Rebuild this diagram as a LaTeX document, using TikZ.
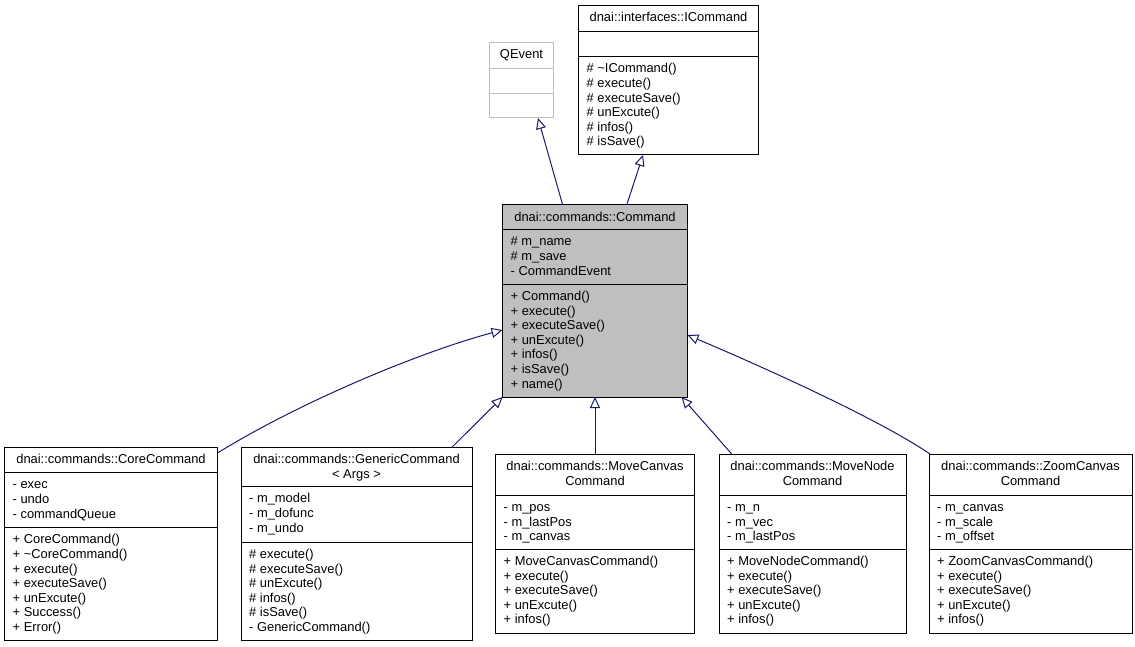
\documentclass[tikz,border=0pt]{standalone}
\usepackage{fontspec}
\setmainfont{Liberation Sans}
\usetikzlibrary{arrows.meta,calc}
\definecolor{navy}{HTML}{191970}
\definecolor{lgray}{HTML}{BFBFBF}
\newcommand\fs{\fontsize{12.9}{14.6}\selectfont}
\tikzset{
  cls/.style={draw=black, line width=1pt, inner sep=0pt, outer sep=0pt, anchor=north west, fill=white},
  txt/.style={inner sep=0pt, anchor=north west, align=left, font=\fs},
  ttl/.style={inner sep=0pt, anchor=north, align=center, font=\fs},
  sep/.style={draw=black, line width=1pt},
  inh/.style={draw=navy, line width=1pt, -{Triangle[length=11pt,width=10pt,fill=white]}},
}
\begin{document}
\begin{tikzpicture}[x=1pt,y=-1pt]
\useasboundingbox (0,0) rectangle (1135,647);
% QEvent
\node[cls, draw=lgray, minimum width=64pt, minimum height=75.5pt] (qev) at (489.5,42.5) {};
\draw[draw=lgray, line width=1pt] (489.5,68.5) -- (553.5,68.5) (489.5,93.5) -- (553.5,93.5);
\node[ttl] (qevT) at (521.5,48.5) {\strut QEvent};
% ICommand
\node[cls, minimum width=180pt, minimum height=149.5pt] (icmd) at (578.5,5.5) {};
\draw[sep] (578.5,31.5) -- (758.5,31.5) (578.5,56.5) -- (758.5,56.5);
\node[ttl] (icmdT) at (668.5,11.5) {\strut dnai::interfaces::ICommand};
\node[txt] (icmdM) at (586.5,62.5) {\strut \# \textasciitilde ICommand()\\\# execute()\\\# executeSave()\\\# unExcute()\\\# infos()\\\# isSave()};
% Command
\node[cls, fill=lgray, minimum width=185pt, minimum height=192pt] (cmd) at (502.5,205) {};
\draw[sep] (502.5,229.5) -- (687.5,229.5) (502.5,284.5) -- (687.5,284.5);
\node[ttl] (cmdT) at (595,211) {\strut dnai::commands::Command};
\node[txt] (cmdA) at (510.5,235.5) {\strut \# m\_name\\\# m\_save\\- CommandEvent};
\node[txt] (cmdM) at (510.5,290) {\strut + Command()\\+ execute()\\+ executeSave()\\+ unExcute()\\+ infos()\\+ isSave()\\+ name()};
% CoreCommand
\node[cls, minimum width=213pt, minimum height=193pt] (core) at (4.5,447.5) {};
\draw[sep] (4.5,472.5) -- (217.5,472.5) (4.5,527.5) -- (217.5,527.5);
\node[ttl] (coreT) at (111,453.5) {\strut dnai::commands::CoreCommand};
\node[txt] (coreA) at (12.5,478.5) {\strut - exec\\- undo\\- commandQueue};
\node[txt] (coreM) at (12.5,533.5) {\strut + CoreCommand()\\+ \textasciitilde CoreCommand()\\+ execute()\\+ executeSave()\\+ unExcute()\\+ Success()\\+ Error()};
% GenericCommand
\node[cls, minimum width=231pt, minimum height=193pt] (gen) at (241,447.5) {};
\draw[sep] (241,486.5) -- (472,486.5) (241,542) -- (472,542);
\node[ttl] (genT) at (356.5,453) {\strut dnai::commands::GenericCommand\\{<} Args {>}};
\node[txt] (genA) at (249,492.5) {\strut - m\_model\\- m\_dofunc\\- m\_undo};
\node[txt] (genM) at (249,548) {\strut \# execute()\\\# executeSave()\\\# unExcute()\\\# infos()\\\# isSave()\\- GenericCommand()};
% MoveCanvasCommand
\node[cls, minimum width=199pt, minimum height=179pt] (mc) at (495.5,454) {};
\draw[sep] (495.5,495) -- (694.5,495) (495.5,549) -- (694.5,549);
\node[ttl] (mcT) at (595,460) {\strut dnai::commands::MoveCanvas\\Command};
\node[txt] (mcA) at (503.5,501) {\strut - m\_pos\\- m\_lastPos\\- m\_canvas};
\node[txt] (mcM) at (503.5,555) {\strut + MoveCanvasCommand()\\+ execute()\\+ executeSave()\\+ unExcute()\\+ infos()};
% MoveNodeCommand
\node[cls, minimum width=187pt, minimum height=179pt] (mn) at (719,454) {};
\draw[sep] (719,495) -- (906,495) (719,549) -- (906,549);
\node[ttl] (mnT) at (812.5,460) {\strut dnai::commands::MoveNode\\Command};
\node[txt] (mnA) at (727,501) {\strut - m\_n\\- m\_vec\\- m\_lastPos};
\node[txt] (mnM) at (727,555) {\strut + MoveNodeCommand()\\+ execute()\\+ executeSave()\\+ unExcute()\\+ infos()};
% ZoomCanvasCommand
\node[cls, minimum width=203pt, minimum height=179pt] (zc) at (929,454) {};
\draw[sep] (929,495) -- (1132,495) (929,549) -- (1132,549);
\node[ttl] (zcT) at (1030.5,460) {\strut dnai::commands::ZoomCanvas\\Command};
\node[txt] (zcA) at (937,501) {\strut - m\_canvas\\- m\_scale\\- m\_offset};
\node[txt] (zcM) at (937,555) {\strut + ZoomCanvasCommand()\\+ execute()\\+ executeSave()\\+ unExcute()\\+ infos()};
% inheritance connectors
\draw[inh] ($(cmd.north west)+(60.2,0)$) -- ($(qev.south west)+(48.5,0)$);
\draw[inh] ($(cmd.north west)+(124.2,0)$) -- ($(icmd.south west)+(64.5,0)$);
\draw[inh] ($(core.north east)+(0,5.5)$) .. controls (300,402) and (420,352) .. ($(cmd.north west)+(0,125)$);
\draw[inh] ($(gen.north west)+(210.7,0)$) -- (cmd.south west);
\draw[inh] ($(mc.north west)+(99.5,0)$) -- ($(cmd.south west)+(92.5,0)$);
\draw[inh] ($(mn.north west)+(12.7,0)$) -- ($(cmd.south east)+(-6,0)$);
\draw[inh] ($(zc.north west)+(1,0)$) .. controls (880,420) and (770,370) .. ($(cmd.north east)+(0,130)$);
\end{tikzpicture}
\end{document}
